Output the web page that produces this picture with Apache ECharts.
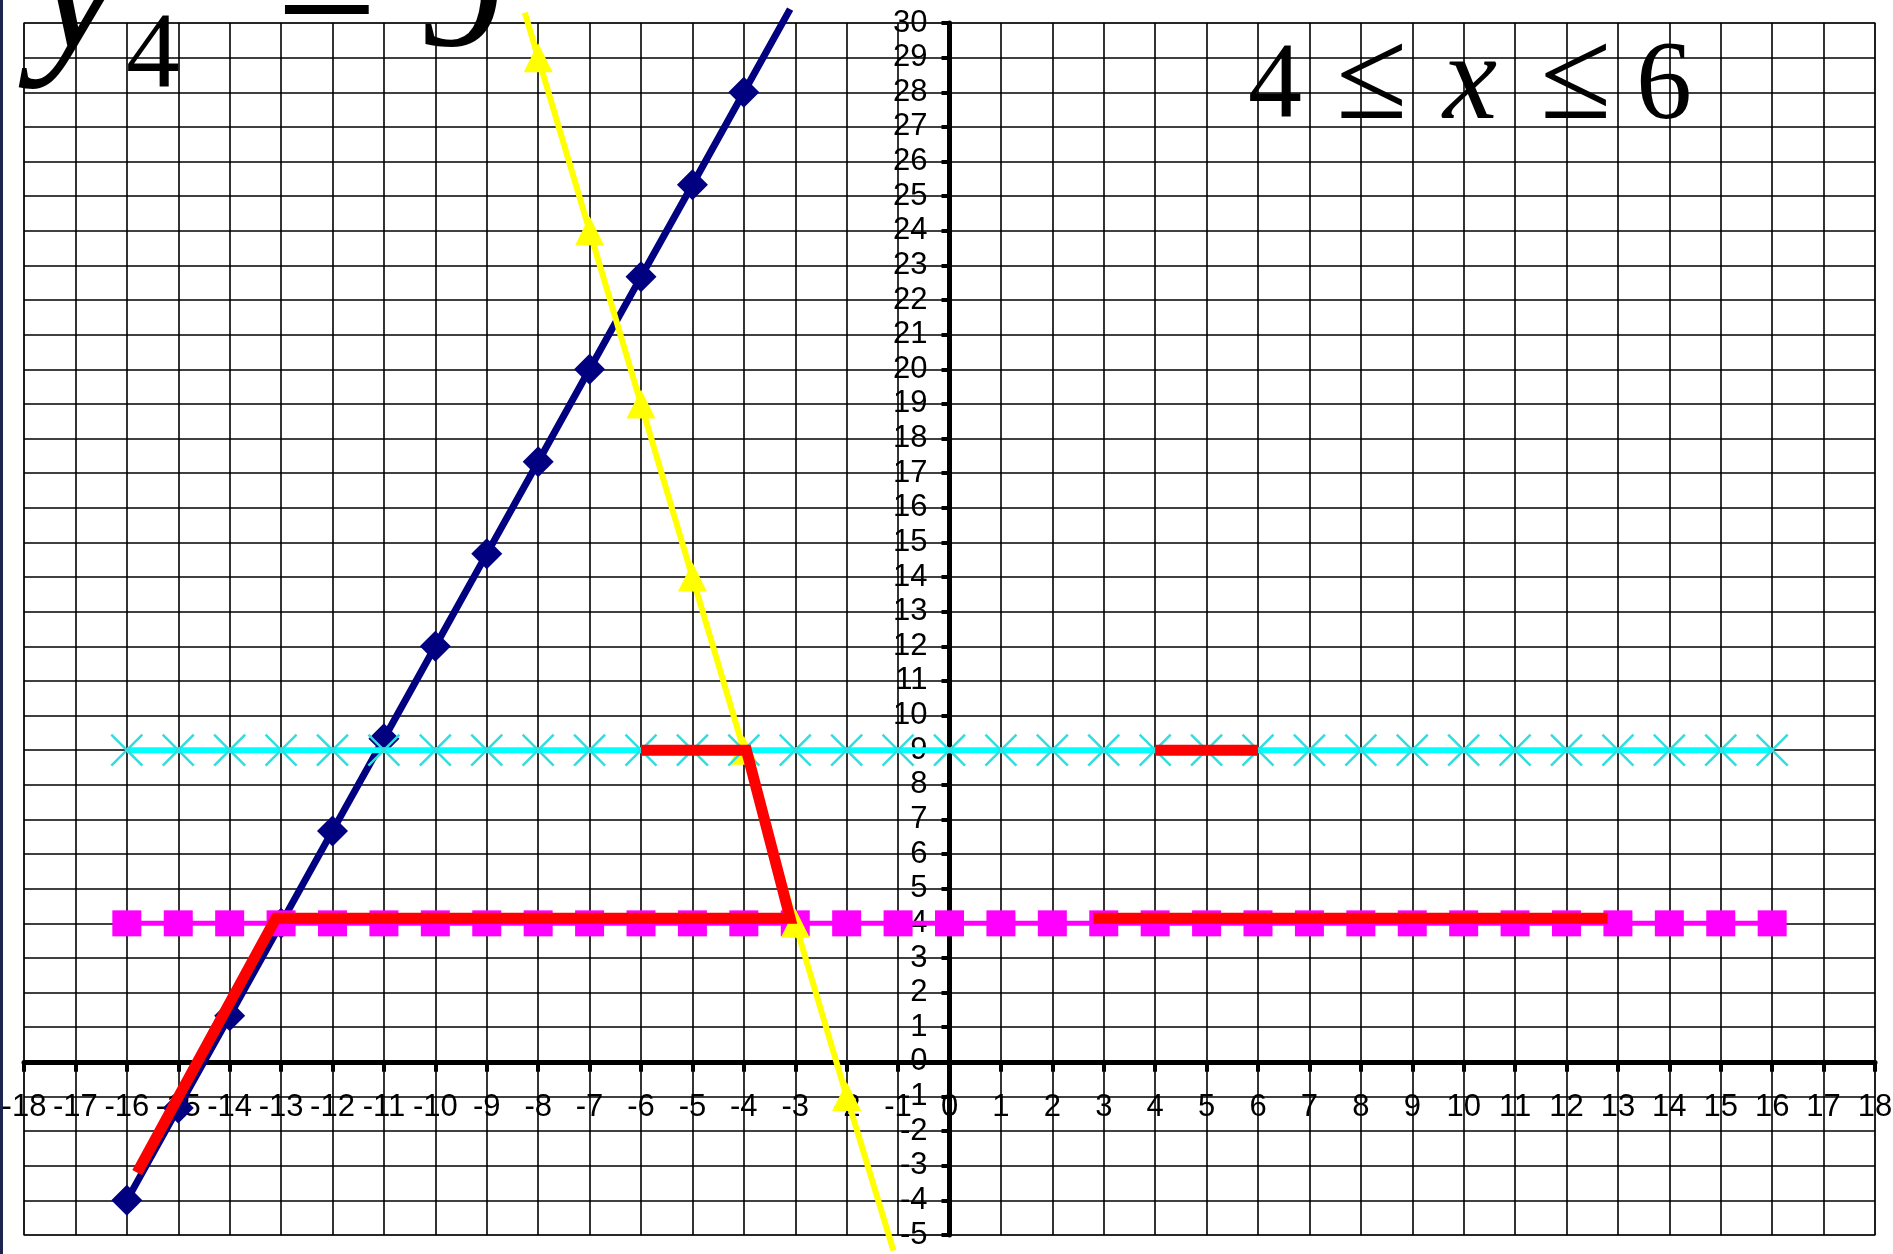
<!DOCTYPE html>
<html>
<head>
<meta charset="utf-8">
<script src="https://cdn.jsdelivr.net/npm/echarts@6/dist/echarts.min.js"></script>
<style>
  html, body { margin: 0; padding: 0; background: #fff; }
  #chart { width: 1893px; height: 1254px; }
</style>
</head>
<body>
<div id="chart"></div>
<script>
  // navy line with diamonds
  var navyX = [-16, -15, -14, -13, -12, -11, -10, -9, -8, -7, -6, -5, -4];
  var navyY = [-4, -1.33, 1.33, 4, 6.67, 9.33, 12, 14.67, 17.33, 20, 22.67, 25.33, 28];
  var navyEnd = [-3.1, 30.4];

  // yellow line with triangles
  var yellowX = [-8, -7, -6, -5, -4, -3, -2];
  var yellowY = [29, 24, 19, 14, 9, 4, -1];
  var yellowStart = [-8.26, 30.3];
  var yellowEnd = [-1.09, -5.45];

  // horizontal lines y=9 and y=4
  var flatX = [-16, -15, -14, -13, -12, -11, -10, -9, -8, -7, -6, -5, -4, -3, -2, -1, 0,
               1, 2, 3, 4, 5, 6, 7, 8, 9, 10, 11, 12, 13, 14, 15, 16];
  var cyanY = [9, 9, 9, 9, 9, 9, 9, 9, 9, 9, 9, 9, 9, 9, 9, 9, 9,
               9, 9, 9, 9, 9, 9, 9, 9, 9, 9, 9, 9, 9, 9, 9, 9];
  var magentaY = [4, 4, 4, 4, 4, 4, 4, 4, 4, 4, 4, 4, 4, 4, 4, 4, 4,
                  4, 4, 4, 4, 4, 4, 4, 4, 4, 4, 4, 4, 4, 4, 4, 4];

  // red highlight pieces
  var redAX = [-15.8, -13.1, -3.1, -3.95, -6];
  var redAY = [-3.2, 4.15, 4.15, 9, 9];
  var redBX = [4, 6];
  var redBY = [9, 9];
  var redCX = [2.8, 12.8];
  var redCY = [4.15, 4.15];

  var W = 1893, H = 1254;
  var gridL = 24, gridR = 18, gridT = 23, gridB = 19;
  var xMin = -18, xMax = 18, yMin = -5, yMax = 30;

  var labelFont = '"Liberation Sans", Arial, sans-serif';
  var serif = '"Liberation Serif", "Times New Roman", serif';

  function pairs(xs, ys) {
    return xs.map(function (x, i) { return [x, ys[i]]; });
  }

  var navyData = pairs(navyX, navyY);
  navyData.push({ value: navyEnd, symbol: 'none' });

  var yellowData = [{ value: yellowStart, symbol: 'none' }].concat(pairs(yellowX, yellowY));
  yellowData.push({ value: yellowEnd, symbol: 'none' });

  function redSeries(xs, ys) {
    return {
      type: 'line',
      data: pairs(xs, ys),
      symbol: 'none',
      clip: false,
      z: 10,
      lineStyle: { color: '#ff0000', width: 11, join: 'miter' }
    };
  }

  // big equation-style text
  function glyph(txt, x, y, size, italic) {
    return {
      type: 'text', x: x, y: y, z: 20,
      style: {
        text: txt,
        font: (italic ? 'italic ' : '') + size + 'px ' + serif,
        fill: '#000',
        verticalAlign: 'middle'
      }
    };
  }

  // move axes onto the zero lines
  var plotW = W - gridL - gridR, plotH = H - gridT - gridB;
  var xAxisOffset = -plotH * (0 - yMin) / (yMax - yMin);
  var yAxisOffset = -plotW * (0 - xMin) / (xMax - xMin);

  var chart = echarts.init(document.getElementById('chart'));
  chart.setOption({
    animation: false,
    backgroundColor: '#ffffff',
    grid: {
      left: gridL, right: gridR, top: gridT, bottom: gridB,
      outerBoundsMode: 'none',
      containLabel: false,
      show: true, borderColor: '#9a9a9a', borderWidth: 2
    },
    xAxis: {
      type: 'value',
      min: xMin, max: xMax, interval: 1,
      position: 'bottom',
      offset: xAxisOffset,
      axisLine: { onZero: false, lineStyle: { color: '#000', width: 5 } },
      axisTick: { show: true, length: 10, lineStyle: { color: '#000', width: 4 } },
      axisLabel: { color: '#000', fontSize: 31, fontFamily: labelFont, margin: 30 },
      splitLine: { show: true, lineStyle: { color: '#000', width: 1.6 } }
    },
    yAxis: {
      type: 'value',
      min: yMin, max: yMax, interval: 1,
      position: 'left',
      offset: yAxisOffset,
      axisLine: { onZero: false, lineStyle: { color: '#000', width: 5 } },
      axisTick: { show: true, length: 8, lineStyle: { color: '#000', width: 4 } },
      axisLabel: { color: '#000', fontSize: 31, fontFamily: labelFont, margin: 22 },
      splitLine: { show: true, lineStyle: { color: '#000', width: 1.6 } }
    },
    graphic: [
      { type: 'rect', left: 0, top: 0, shape: { width: 3, height: H }, style: { fill: '#1b2550' } },
      glyph('y', 35, -4, 195, true),
      glyph('4', 126, 59, 108, false),
      glyph('=', 276, 4, 180, false),
      glyph('9', 415, -2, 180, false),
      glyph('4', 1248, 89, 108, false),
      glyph('≤', 1336, 84, 130, false),
      glyph('x', 1443, 86, 122, true),
      glyph('≤', 1540, 84, 130, false),
      glyph('6', 1636, 89, 112, false)
    ],
    series: [
      {
        type: 'line',
        data: navyData,
        symbol: 'diamond',
        symbolSize: 31,
        clip: false,
        z: 3,
        itemStyle: { color: '#000080' },
        lineStyle: { color: '#000080', width: 7 }
      },
      {
        type: 'line',
        data: pairs(flatX, magentaY),
        symbol: 'rect',
        symbolSize: [29, 26],
        z: 4,
        itemStyle: { color: '#ff00ff' },
        lineStyle: { color: '#ff00ff', width: 5 }
      },
      {
        type: 'line',
        data: yellowData,
        symbol: 'triangle',
        symbolSize: 29,
        clip: false,
        z: 5,
        itemStyle: { color: '#ffff00' },
        lineStyle: { color: '#ffff00', width: 6 }
      },
      {
        type: 'line',
        data: pairs(flatX, cyanY),
        symbol: 'path://M0,0L10,10M10,0L0,10',
        symbolSize: 31,
        z: 6,
        itemStyle: { color: 'rgba(0,0,0,0)', borderColor: '#33dddd', borderWidth: 2.5 },
        lineStyle: { color: '#00ffff', width: 6 }
      },
      redSeries(redAX, redAY),
      redSeries(redBX, redBY),
      redSeries(redCX, redCY)
    ]
  });
</script>
</body>
</html>
